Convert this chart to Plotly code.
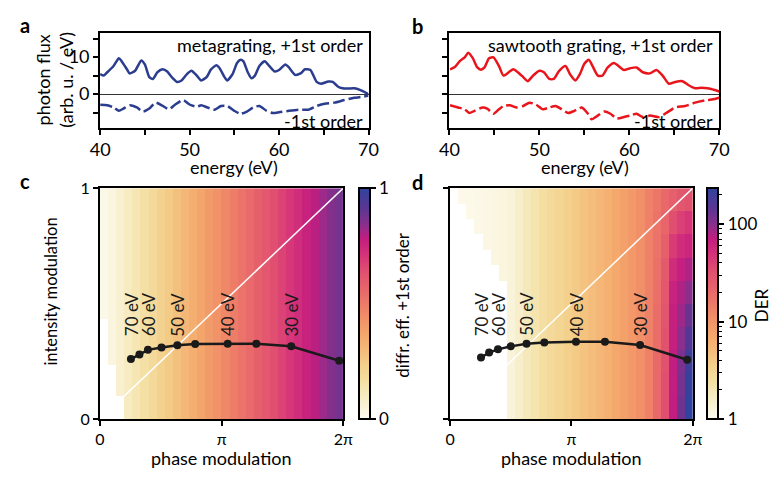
import numpy as np
import plotly.graph_objects as go

W, H = 779, 477

# ---------------- panel a / b data ----------------
a_E_plus = [40, 40.4, 40.8, 41.5, 42.1, 42.4, 43, 43.3, 43.9, 44.6, 45, 45.5, 45.9, 46.4, 47, 47.5, 48, 48.6, 49.1, 49.7,
            50.2, 50.8, 51.3, 51.9, 52.4, 53, 53.3, 53.9, 54.2, 54.8, 55.3, 55.7, 56, 56.5, 56.9, 57.3, 57.8, 58.4, 58.9, 59.5,
            60, 60.7, 61.1, 61.8, 62.4, 62.9, 63.5, 64.2, 64.7, 65.5, 66, 66.6, 67.1, 67.6, 68.4, 69.1, 70]
a_plus = [5.4, 5.0, 5.9, 7.6, 9.7, 8.9, 6.7, 5.6, 6.3, 9.1, 8.0, 4.6, 4.1, 5.9, 6.7, 6.1, 4.6, 3.3, 3.7, 5.4,
          6.3, 5.0, 3.7, 4.6, 6.7, 7.8, 7.2, 4.6, 3.7, 5.4, 8.4, 9.3, 8.9, 5.9, 4.3, 5.0, 7.6, 8.9, 7.6, 6.1,
          6.5, 8.0, 7.2, 5.2, 5.6, 6.7, 6.5, 3.3, 2.8, 3.4, 3.3, 2.0, 1.6, 1.5, 1.6, 1.1, 0]
a_E_minus = [40, 40.8, 41.5, 42.1, 42.6, 43.3, 44.1, 44.8, 45.5, 46.2, 47, 47.7, 48.4, 49.3, 50, 50.8, 51.3, 52, 52.8, 53.5,
             54.2, 55, 55.7, 56.4, 57.1, 57.8, 58.6, 59.3, 60, 61.1, 62.2, 63.3, 64.2, 65.1, 66.2, 67.3, 68.4, 69.1, 70]
a_minus = [-2.9, -3.0, -3.6, -4.5, -3.9, -3.0, -3.6, -4.7, -3.9, -2.3, -3.2, -4.1, -2.8, -1.6, -2.8, -3.4, -3.0, -3.6, -4.2, -3.2,
           -3.2, -4.5, -5.3, -4.7, -3.6, -3.2, -4.5, -5.1, -4.9, -4.5, -4.2, -4.2, -3.2, -2.6, -2.3, -1.6, -1.0, -0.8, -0.4]

b_E_plus = [40.07, 40.6, 41.15, 41.7, 42.1, 42.6, 43.1, 43.5, 43.9, 44.4, 44.9, 45.5, 46.0, 46.6, 47.1, 47.6, 48.2, 48.7, 49.3, 50.0,
            50.5, 51.1, 51.6, 52.2, 52.9, 53.4, 54.0, 54.5, 55.0, 55.5, 55.9, 56.5, 57.0, 57.6, 58.3, 58.8, 59.4, 60.1, 60.8, 61.5,
            62.3, 63.0, 63.7, 64.4, 65.1, 65.9, 66.6, 67.3, 68.0, 68.7, 69.5, 70]
b_plus = [6.7, 7.3, 8.9, 9.9, 11.2, 9.7, 7.2, 6.6, 7.2, 9.7, 9.9, 7.6, 5.0, 5.9, 6.7, 5.9, 4.6, 3.5, 5.0, 6.3,
          5.9, 4.1, 4.1, 6.3, 7.6, 5.4, 3.7, 5.4, 8.2, 9.3, 7.6, 5.0, 5.0, 7.2, 8.4, 7.6, 6.5, 7.0, 7.2, 5.9,
          5.6, 6.5, 5.0, 2.8, 3.3, 3.5, 2.4, 1.6, 1.7, 1.6, 1.1, 0.7]
b_E_minus = [40.07, 40.97, 41.7, 42.2, 42.8, 43.7, 44.2, 44.9, 45.5, 46.0, 46.7, 47.5, 48.2, 48.9, 49.6, 50.4, 51.1, 51.8, 52.5, 53.2,
             53.9, 54.7, 55.4, 55.8, 56.5, 57.2, 57.9, 58.6, 59.4, 60.1, 60.8, 61.5, 62.3, 63.3, 64.1, 65.1, 66.2, 67.3, 68.4, 69.5, 70]
b_minus = [-3.0, -3.6, -4.1, -5.1, -4.5, -3.6, -3.9, -5.3, -4.1, -3.2, -3.0, -3.6, -3.2, -2.3, -2.8, -4.1, -3.6, -3.2, -4.1, -5.1,
           -4.5, -3.6, -5.3, -6.8, -5.8, -4.7, -5.3, -6.6, -6.2, -5.8, -5.3, -6.2, -5.8, -6.2, -5.1, -3.6, -3.2, -2.3, -1.7, -1.3, -1.0]

# ---------------- panel c / d data ----------------
energies = [70, 65, 60, 55, 50, 45, 40, 35, 30, 25]
label_idx = [0, 2, 4, 6, 8]
c_phase = [0.80, 1.02, 1.24, 1.59, 2.00, 2.46, 3.30, 4.04, 4.94, 6.18]
c_int = [0.26, 0.28, 0.30, 0.31, 0.32, 0.325, 0.326, 0.326, 0.315, 0.253]
d_phase = [0.80, 1.01, 1.24, 1.57, 1.98, 2.44, 3.26, 4.01, 4.92, 6.14]
d_int = [0.267, 0.288, 0.302, 0.315, 0.326, 0.332, 0.335, 0.335, 0.321, 0.257]

# heatmap c: diffraction efficiency per phase column (30 columns)
c_cols = [0.02, 0.04, 0.07, 0.10, 0.13, 0.16, 0.19, 0.22, 0.25, 0.28, 0.31, 0.34, 0.37, 0.40, 0.43,
          0.46, 0.49, 0.52, 0.55, 0.58, 0.61, 0.64, 0.67, 0.70, 0.73, 0.76, 0.79, 0.82, 0.85, 0.87]
# number of empty (white) columns on the left in each row (bottom -> top)
c_white_cols = [3, 3, 3, 2, 2, 2, 2, 1, 1, 1, 1, 1, 1, 0, 0, 0, 0, 0, 0, 0, 0, 0, 0, 0, 0, 0, 0, 0, 0, 0]

# heatmap d: DER per phase column (first 25 columns, vertically constant)
d_cols = [1.03, 1.06, 1.09, 1.12, 1.16, 1.2, 1.25, 1.31, 1.55, 1.82, 2.15, 2.5, 2.8, 3.1, 3.5,
          3.9, 4.4, 4.9, 5.4, 6.1, 7.1, 8.0, 9.4, 11.0, 13.7]
# last 5 columns, 10 intensity bands (bottom -> top)
d_right = [
    [20.2, 32.8, 70, 122, 234],
    [20.2, 32.8, 70, 115, 222],
    [20.2, 31.0, 70, 109, 199],
    [19.1, 31.0, 67, 98, 160],
    [19.1, 29.4, 67, 88, 129],
    [18.1, 27.9, 63, 79, 98],
    [18.1, 26.5, 54, 67, 79],
    [17.1, 23.7, 43, 54, 60],
    [17.1, 21.3, 33, 41, 46],
    [16.2, 20.2, 24, 28, 31],
]
d_white_cols = [7] * 18 + [6, 6, 5, 5, 4, 4, 3, 3, 2, 2, 1, 1]
DER_MAX = 234

n = 30
z_c, z_d = [], []
for i in range(n):
    rc, rd = [], []
    for j in range(n):
        rc.append(None if j < c_white_cols[i] else c_cols[j])
        if j < d_white_cols[i]:
            rd.append(None)
        elif j < 25:
            rd.append(float(np.log10(d_cols[j])))
        else:
            rd.append(float(np.log10(d_right[i // 3][j - 25])))
    z_c.append(rc)
    z_d.append(rd)

cs = [[0.0, '#fdfbf1'], [0.09, '#f6edc6'], [0.16, '#f4e0a4'], [0.23, '#f3d08c'], [0.29, '#f4bd7b'],
      [0.36, '#f4a86c'], [0.43, '#f19268'], [0.5, '#ed7a68'], [0.57, '#e7636b'], [0.64, '#e04f70'],
      [0.71, '#d53379'], [0.78, '#c21d80'], [0.84, '#8a2f8c'], [0.91, '#5c3592'], [1.0, '#2f449c']]

BLUE = '#2b3d8f'
RED = '#e8161c'
FONT = 'Lato'


def px(x):
    return x / W


def py(y):
    return 1 - y / H


fig = go.Figure()

# panel a
fig.add_trace(go.Scatter(x=a_E_plus, y=a_plus, mode='lines', xaxis='x', yaxis='y',
                         line=dict(color=BLUE, width=2.5, shape='spline', smoothing=0.6)))
fig.add_trace(go.Scatter(x=a_E_minus, y=a_minus, mode='lines', xaxis='x', yaxis='y',
                         line=dict(color=BLUE, width=2.5, dash='12px,4px', shape='spline', smoothing=0.6)))
# panel b
fig.add_trace(go.Scatter(x=b_E_plus, y=b_plus, mode='lines', xaxis='x2', yaxis='y2',
                         line=dict(color=RED, width=2.5, shape='spline', smoothing=0.6)))
fig.add_trace(go.Scatter(x=b_E_minus, y=b_minus, mode='lines', xaxis='x2', yaxis='y2',
                         line=dict(color=RED, width=2.5, dash='12px,4px', shape='spline', smoothing=0.6)))

dx = 2 * np.pi / n
dy = 1.0 / n
# panel c heatmap
fig.add_trace(go.Heatmap(z=z_c, x0=dx / 2, dx=dx, y0=dy / 2, dy=dy, xaxis='x3', yaxis='y3',
                         colorscale=cs, zmin=0, zmax=1, hoverinfo='skip',
                         colorbar=dict(x=px(358), xanchor='left', xpad=0, y=py(427), yanchor='bottom', ypad=0,
                                       len=241 / H, lenmode='fraction', thickness=11,
                                       outlinewidth=2, outlinecolor='black',
                                       tickvals=[0, 1], ticktext=['0', '1'], ticks='outside', ticklen=5,
                                       tickwidth=2, tickcolor='black',
                                       tickfont=dict(family=FONT, size=17, color='black'))))
# panel d heatmap
fig.add_trace(go.Heatmap(z=z_d, x0=dx / 2, dx=dx, y0=dy / 2, dy=dy, xaxis='x4', yaxis='y4',
                         colorscale=cs, zmin=0, zmax=float(np.log10(DER_MAX)), hoverinfo='skip',
                         colorbar=dict(x=px(715), xanchor='left', xpad=0, y=py(427), yanchor='bottom', ypad=0,
                                       len=241 / H, lenmode='fraction', thickness=11,
                                       outlinewidth=2, outlinecolor='black',
                                       ticks='', showticklabels=False)))

# diagonal white lines
for xa, ya in (('x3', 'y3'), ('x4', 'y4')):
    fig.add_trace(go.Scatter(x=[0, 2 * np.pi], y=[0, 1], mode='lines', xaxis=xa, yaxis=ya,
                             line=dict(color='white', width=1.5), hoverinfo='skip'))

# curves with markers
fig.add_trace(go.Scatter(x=c_phase, y=c_int, mode='lines+markers', xaxis='x3', yaxis='y3',
                         line=dict(color='#1a1a1a', width=2.5), marker=dict(color='#1a1a1a', size=8)))
fig.add_trace(go.Scatter(x=d_phase, y=d_int, mode='lines+markers', xaxis='x4', yaxis='y4',
                         line=dict(color='#1a1a1a', width=2.5), marker=dict(color='#1a1a1a', size=8)))

# dummy for DER log axis
fig.add_trace(go.Scatter(x=[0], y=[10], mode='markers', xaxis='x5', yaxis='y5',
                         marker=dict(opacity=0), hoverinfo='skip'))

ann = []
for ph, it, xa, ya in ((c_phase, c_int, 'x3', 'y3'), (d_phase, d_int, 'x4', 'y4')):
    for k in label_idx:
        ann.append(dict(x=ph[k], y=0.35, xref=xa, yref=ya, text=f'{energies[k]} eV', textangle=-90,
                        showarrow=False, xanchor='center', yanchor='bottom',
                        font=dict(family=FONT, size=17, color='#1a1a1a')))


def txt(x, y, s, size=18, xanchor='center', yanchor='middle', angle=0, bold=False):
    ann.append(dict(x=px(x), y=py(y), xref='paper', yref='paper', text=f'<b>{s}</b>' if bold else s,
                    showarrow=False, xanchor=xanchor, yanchor=yanchor, textangle=angle,
                    font=dict(family=FONT, size=size, color='black')))


txt(15, 16, 'a', 20, bold=True)
txt(418, 17, 'b', 20, bold=True)
txt(15, 178, 'c', 20, bold=True)
txt(418, 180, 'd', 20, bold=True)
txt(364, 37, 'metagrating, +1st order', xanchor='right')
txt(364, 116, '-1st order', xanchor='right')
txt(724, 37, 'sawtooth grating, +1st order', xanchor='right')
txt(724, 116, '-1st order', xanchor='right')
txt(46, 73, 'photon flux<br>(arb. u. / eV)', angle=-90)
txt(230, 164, 'energy (eV)')
txt(590, 164, 'energy (eV)')
txt(42, 294, 'intensity modulation', size=16.5, angle=-90)
txt(217, 468, 'phase modulation')
txt(576, 468, 'phase modulation')
txt(402, 308, 'diffr. eff. +1st order', size=17, angle=-90)
txt(771, 308, 'DER', size=17, angle=-90)

base = dict(showline=True, linecolor='black', linewidth=2, mirror=True, ticks='outside', tickwidth=1.5,
            ticklen=5, tickcolor='black', showgrid=False, zeroline=False,
            tickfont=dict(family=FONT, size=18, color='black'))
base_cd = dict(base, tickfont=dict(family=FONT, size=16, color='black'))

e_ticks = [40, 45, 50, 55, 60, 65, 70]
e_text = ['40', '', '50', '', '60', '', '70']
f_ticks = [-5, 0, 5, 10, 15]
f_text_a = ['', '0', '', '10', '']
ph_ticks = [0, np.pi, 2 * np.pi]
ph_text = ['0', 'π', '2π']

fig.update_layout(
    width=W, height=H, margin=dict(l=0, r=0, t=0, b=0), showlegend=False,
    paper_bgcolor='white', plot_bgcolor='white',
    font=dict(family=FONT, size=16, color='black'),
    xaxis=dict(base, domain=[px(92.5), px(368)], anchor='y', range=[40, 70], tickvals=e_ticks, ticktext=e_text),
    yaxis=dict(base, domain=[py(123), py(24)], anchor='x', range=[-9.1, 16.5], tickvals=f_ticks, ticktext=f_text_a,
               zeroline=True, zerolinecolor='#333', zerolinewidth=1),
    xaxis2=dict(base, domain=[px(451), px(728)], anchor='y2', range=[40, 70], tickvals=e_ticks, ticktext=e_text),
    yaxis2=dict(base, domain=[py(123), py(24)], anchor='x2', range=[-9.1, 16.5], tickvals=f_ticks,
                ticktext=['', '', '', '', ''], zeroline=True, zerolinecolor='#333', zerolinewidth=1),
    xaxis3=dict(base_cd, domain=[px(92.3), px(342)], anchor='y3', range=[0, 2 * np.pi], tickvals=ph_ticks,
                ticktext=ph_text),
    yaxis3=dict(base_cd, domain=[py(427), py(186)], anchor='x3', range=[0, 1], tickvals=[0, 1], ticktext=['0', '1']),
    xaxis4=dict(base_cd, domain=[px(451.7), px(700.7)], anchor='y4', range=[0, 2 * np.pi], tickvals=ph_ticks,
                ticktext=ph_text),
    yaxis4=dict(base_cd, domain=[py(427), py(186)], anchor='x4', range=[0, 1], tickvals=[0, 1],
                ticktext=['', '']),
    xaxis5=dict(domain=[px(715), px(726)], anchor='y5', visible=False, range=[-1, 1]),
    yaxis5=dict(domain=[py(427), py(186)], anchor='x5', type='log', range=[0, float(np.log10(DER_MAX))], side='right',
                showline=False, showgrid=False, zeroline=False, ticks='outside', ticklen=6, tickwidth=1.5,
                tickcolor='black', tickvals=[1, 10, 100], ticktext=['1', '10', '100'],
                tickfont=dict(family=FONT, size=17, color='black'),
                minor=dict(ticks='outside', ticklen=3.5, tickwidth=1.2, tickcolor='black', showgrid=False,
                           tickvals=[2, 3, 4, 5, 6, 7, 8, 9, 20, 30, 40, 50, 60, 70, 80, 90, 200])),
    annotations=ann,
)

fig.write_html('out.html')
